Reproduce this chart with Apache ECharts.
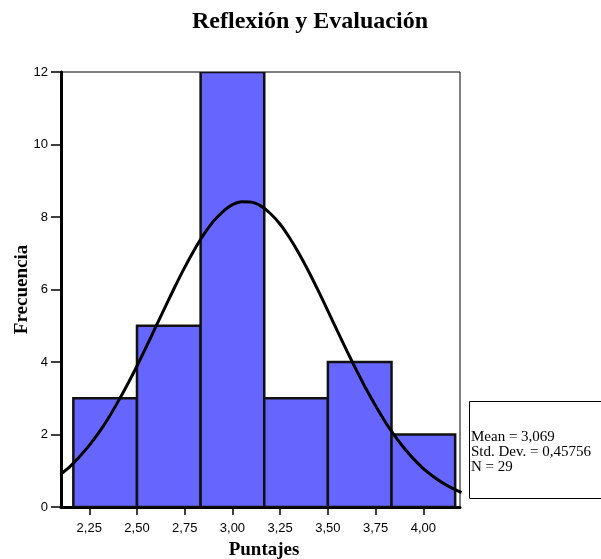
<!DOCTYPE html>
<html>
<head>
<meta charset="utf-8">
<script src="https://cdn.jsdelivr.net/npm/echarts@6/dist/echarts.min.js"></script>
<style>
  html, body { margin: 0; padding: 0; background: #fff; }
  #chart { width: 601px; height: 559px; }
</style>
</head>
<body>
<div id="chart"></div>
<script>
// Histogram of scores: bin edges and counts per bin
const binEdges = [2.1667, 2.5, 2.8333, 3.1667, 3.5, 3.8333, 4.1667];
const counts = [3, 5, 12, 3, 4, 2];

// Fitted normal curve (frequency scale)
const curveX = [2.10, 2.15, 2.20, 2.25, 2.30, 2.35, 2.40, 2.45, 2.50, 2.55, 2.60, 2.65,
                2.70, 2.75, 2.80, 2.85, 2.90, 2.95, 3.00, 3.05, 3.10, 3.15, 3.20, 3.25,
                3.30, 3.35, 3.40, 3.45, 3.50, 3.55, 3.60, 3.65, 3.70, 3.75, 3.80, 3.85,
                3.90, 3.95, 4.00, 4.05, 4.10, 4.15, 4.20];
const curveY = [0.90, 1.12, 1.39, 1.70, 2.05, 2.45, 2.90, 3.38, 3.89, 4.43, 4.99, 5.54,
                6.09, 6.61, 7.09, 7.52, 7.88, 8.15, 8.34, 8.42, 8.41, 8.30, 8.09, 7.80,
                7.42, 6.98, 6.49, 5.96, 5.41, 4.85, 4.30, 3.77, 3.26, 2.79, 2.35, 1.96,
                1.62, 1.32, 1.06, 0.85, 0.67, 0.52, 0.40];

// Axis tick labels
const xTicks = [2.25, 2.50, 2.75, 3.00, 3.25, 3.50, 3.75, 4.00];
const yTicks = [0, 2, 4, 6, 8, 10, 12];

const statsLines = ['Mean = 3,069', 'Std. Dev. = 0,45756', 'N = 29'];

const barData = counts.map((c, i) => [binEdges[i], binEdges[i + 1], c]);
const curveData = curveX.map((x, i) => [x, curveY[i]]);

const chart = echarts.init(document.getElementById('chart'), null, { renderer: 'canvas' });

chart.setOption({
  animation: false,
  backgroundColor: '#fff',
  title: {
    text: 'Reflexión y Evaluación',
    left: 187,
    top: 5,
    textStyle: { fontFamily: 'Liberation Serif', fontWeight: 'bold', fontSize: 24, color: '#000' }
  },
  grid: {
    left: 61, right: 141, top: 72, bottom: 52,
    outerBoundsMode: 'none',
    containLabel: false,
    show: true, borderColor: '#000', borderWidth: 1, backgroundColor: 'transparent'
  },
  xAxis: {
    type: 'value',
    min: 2.102,
    max: 4.192,
    name: 'Puntajes',
    nameLocation: 'middle',
    nameGap: 34,
    nameMoveOverlap: false,
    nameTextStyle: { fontFamily: 'Liberation Serif', fontWeight: 'bold', fontSize: 19, color: '#000', padding: [0, 0, 0, 7] },
    axisLine: { show: true, onZero: false, lineStyle: { color: '#000', width: 3 } },
    axisTick: { show: true, length: 8, customValues: xTicks, lineStyle: { color: '#000', width: 1.5 } },
    axisLabel: {
      customValues: xTicks,
      margin: 15,
      fontFamily: 'Liberation Sans', fontSize: 13, color: '#000',
      formatter: v => v.toFixed(2).replace('.', ',')
    },
    splitLine: { show: false }
  },
  yAxis: {
    type: 'value',
    min: 0,
    max: 12,
    interval: 2,
    name: 'Frecuencia',
    nameLocation: 'middle',
    nameGap: 29,
    nameMoveOverlap: false,
    nameRotate: 90,
    nameTextStyle: { fontFamily: 'Liberation Serif', fontWeight: 'bold', fontSize: 19, color: '#000' },
    axisLine: { show: true, lineStyle: { color: '#000', width: 3 } },
    axisTick: { show: true, length: 10, lineStyle: { color: '#000', width: 1.5 } },
    axisLabel: {
      margin: 13,
      fontFamily: 'Liberation Sans', fontSize: 13, color: '#000',
      formatter: v => yTicks.includes(v) ? String(v) : ''
    },
    splitLine: { show: false }
  },
  series: [
    {
      type: 'custom',
      clip: true,
      data: barData,
      encode: { x: [0, 1], y: 2 },
      renderItem: (params, api) => {
        const p0 = api.coord([api.value(0), api.value(2)]);
        const p1 = api.coord([api.value(1), 0]);
        return {
          type: 'rect',
          shape: { x: p0[0], y: p0[1], width: p1[0] - p0[0], height: p1[1] - p0[1] },
          style: { fill: '#6666ff', stroke: '#111', lineWidth: 2.5 }
        };
      },
      z: 2
    },
    {
      type: 'line',
      data: curveData,
      smooth: 0.3,
      showSymbol: false,
      clip: true,
      lineStyle: { color: '#000', width: 3 },
      z: 3
    }
  ],
  graphic: [
    {
      type: 'rect',
      shape: { x: 469.5, y: 401.5, width: 140, height: 97 },
      style: { fill: '#fff', stroke: '#000', lineWidth: 1 }
    },
    {
      type: 'text',
      left: 471,
      top: 430,
      style: {
        text: statsLines.join('\n'),
        font: '15px "Liberation Serif"',
        lineHeight: 15,
        fill: '#000'
      }
    }
  ]
});
</script>
</body>
</html>
